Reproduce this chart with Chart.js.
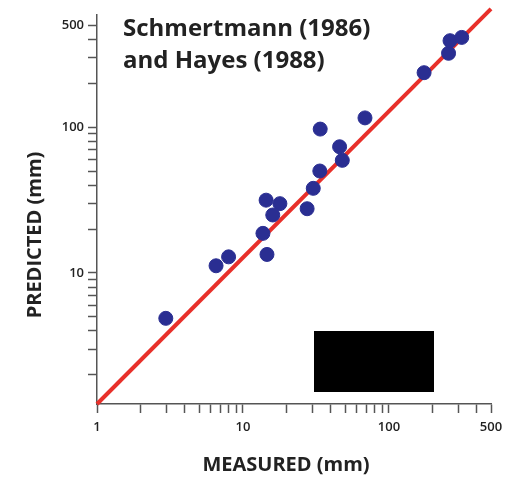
<!DOCTYPE html>
<html>
<head>
<meta charset="utf-8">
<script src="https://cdn.jsdelivr.net/npm/chart.js@4.4.1/dist/chart.umd.min.js"></script>
<style>
  html, body { margin: 0; padding: 0; background: #fff; }
  #wrap { position: relative; width: 515px; height: 477px; }
  #box { position: absolute; left: 314px; top: 331px; width: 120px; height: 61px; background: #000; }
</style>
</head>
<body>
<div id="wrap">
  <canvas id="myChart" width="515" height="477"></canvas>
  <div id="box"></div>
</div>
<script>
// measured vs predicted settlement (mm)
const measured = [2.96, 6.54, 7.97, 13.7, 14.6, 14.4, 17.9, 16.0, 27.5, 30.3, 33.6, 33.8, 45.9, 47.9, 68.5, 174, 256, 262, 315];
const predicted = [4.88, 11.2, 12.9, 18.7, 13.4, 31.6, 29.9, 25.0, 27.6, 38.1, 50.1, 97.2, 73.5, 59.3, 116, 237, 322, 393, 414];

// 1:1 line end points
const lineX = [1, 500];
const lineY = [1.26, 650];

const xTickLabels = [1, 10, 100, 500];
const yTickLabels = [10, 100, 500];
const minorTicks = [1, 2, 3, 4, 5, 6, 7, 8, 9, 10, 20, 30, 40, 50, 60, 70, 80, 90, 100, 200, 300, 400, 500];

const titleLines = ['Schmertmann (1986)', 'and Hayes (1988)'];
const xTitle = 'MEASURED (mm)';
const yTitle = 'PREDICTED (mm)';

const axisColor = '#555';
const textColor = '#222';

const textPlugin = {
  id: 'texts',
  afterDraw(chart) {
    const c = chart.ctx;
    c.save();
    c.fillStyle = textColor;
    c.font = 'bold 24px "Open Sans"';
    c.textAlign = 'left';
    c.textBaseline = 'alphabetic';
    c.fillText(titleLines[0], 123, 36);
    c.fillText(titleLines[1], 123, 68);

    c.font = 'bold 20px "Open Sans"';
    c.textAlign = 'center';
    c.textBaseline = 'middle';
    c.fillText(xTitle, 286, 465);
    c.translate(35, 235);
    c.rotate(-Math.PI / 2);
    c.fillText(yTitle, 0, 0);
    c.restore();
  }
};

const ctx = document.querySelector('#myChart');
const myChart = new Chart(ctx, {
  type: 'scatter',
  data: {
    datasets: [{
      label: 'Data',
      data: measured.map((m, i) => ({ x: m, y: predicted[i] })),
      backgroundColor: '#2a2e92',
      borderColor: '#2a2e92',
      pointRadius: 7,
      pointHoverRadius: 7
    }, {
      label: '1:1',
      type: 'line',
      data: lineX.map((x, i) => ({ x: x, y: lineY[i] })),
      borderColor: '#e8302a',
      borderWidth: 4,
      pointRadius: 0,
      clip: false
    }]
  },
  options: {
    responsive: false,
    animation: false,
    layout: { padding: { left: 0, right: 24, top: 15, bottom: 0 } },
    plugins: {
      legend: { display: false },
      tooltip: { enabled: false }
    },
    scales: {
      x: {
        type: 'logarithmic',
        min: 1,
        max: 500,
        afterBuildTicks: (s) => { s.ticks = minorTicks.map(v => ({ value: v })); },
        afterFit: (s) => { s.height = 73; },
        grid: { drawOnChartArea: false, tickLength: 9, tickColor: axisColor, tickWidth: 1.5 },
        border: { color: axisColor, width: 1.5 },
        ticks: {
          autoSkip: false,
          maxRotation: 0,
          padding: 6,
          color: textColor,
          font: { family: 'Open Sans', size: 13, weight: '600' },
          callback: (v) => xTickLabels.includes(v) ? String(v) : ''
        }
      },
      y: {
        type: 'logarithmic',
        min: 1.26,
        max: 590,
        afterBuildTicks: (s) => { s.ticks = minorTicks.filter(v => v > 1.26).map(v => ({ value: v })); },
        afterFit: (s) => { s.width = 97; },
        grid: { drawOnChartArea: false, tickLength: 9, tickColor: axisColor, tickWidth: 1.5 },
        border: { color: axisColor, width: 1.5 },
        ticks: {
          autoSkip: false,
          padding: 4,
          color: textColor,
          font: { family: 'Open Sans', size: 13, weight: '600' },
          callback: (v) => yTickLabels.includes(v) ? String(v) : ''
        }
      }
    }
  },
  plugins: [textPlugin]
});
</script>
</body>
</html>
